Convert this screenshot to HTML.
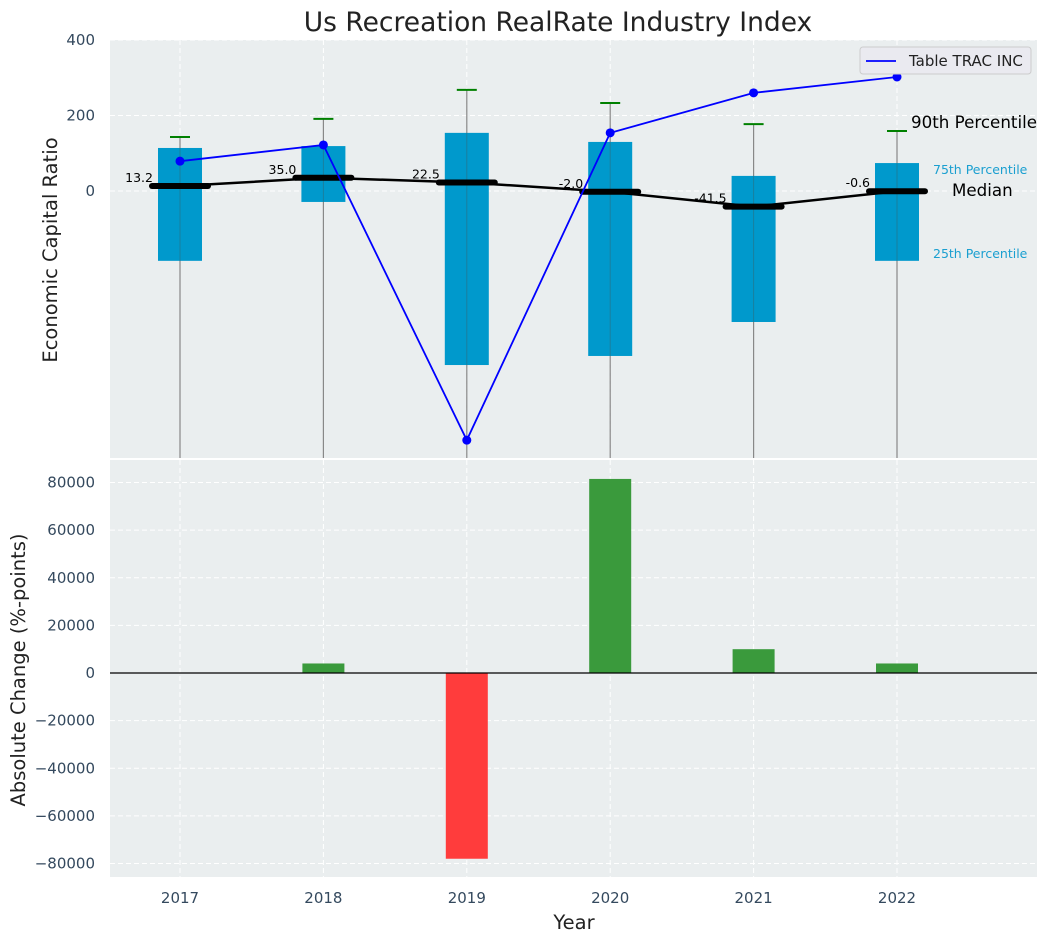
<!DOCTYPE html>
<html><head><meta charset="utf-8">
<style>
body{margin:0;background:#fff;font-family:"Liberation Sans","DejaVu Sans",sans-serif;}
svg text{font-family:"DejaVu Sans","Liberation Sans",sans-serif;}
</style></head>
<body>
<svg id="c" width="1048" height="942" xmlns="http://www.w3.org/2000/svg"></svg>
<script>
const years=[2017,2018,2019,2020,2021,2022];
const q75=[114,119,154,130,40,74];
const q25=[-185,-29,-461,-437,-347,-185];
const p90=[143,191,268,233,177,159];
const medians=[13.2,35.0,22.5,-2.0,-41.5,-0.6];
const company=[79,122,-660,154,260,302];
const changes=[0,4000,-78000,81500,10000,4000];
const topTicks=[0,200,400];
const botTicks=[-80000,-60000,-40000,-20000,0,20000,40000,60000,80000];

const NS="http://www.w3.org/2000/svg";
const svg=document.getElementById('c');
function el(t,a,p){const e=document.createElementNS(NS,t);for(const k in a)e.setAttribute(k,a[k]);(p||svg).appendChild(e);return e;}
const L=110,R=1037;
const x=v=>180+(v-2017)*143.4;
const yT=v=>191-v*0.3775;
const yB=v=>673-v*190.5/80000;
const T0=40,T1=458,B0=460,B1=877;

let bg=el('rect',{x:L,y:T0,width:R-L,height:T1-T0,fill:'#eaeeef'});

let bg2=el('rect',{x:L,y:B0,width:R-L,height:B1-B0,fill:'#eaeeef'});


topTicks.forEach(v=>el('line',{x1:L,x2:R,y1:yT(v),y2:yT(v),stroke:'#fff','stroke-dasharray':'5,3'}));
botTicks.forEach(v=>el('line',{x1:L,x2:R,y1:yB(v),y2:yB(v),stroke:'#fff','stroke-dasharray':'5,3'}));
years.forEach(v=>{el('line',{x1:x(v),x2:x(v),y1:T0,y2:T1,stroke:'#fff','stroke-dasharray':'5,3'});el('line',{x1:x(v),x2:x(v),y1:B0,y2:B1,stroke:'#fff','stroke-dasharray':'5,3'});});

topTicks.forEach(v=>{const t=el('text',{x:95,y:yT(v)+5,'text-anchor':'end','font-size':15,fill:'#34495e'});t.textContent=v;});
botTicks.forEach(v=>{const t=el('text',{x:95,y:yB(v)+5,'text-anchor':'end','font-size':15,fill:'#34495e'});t.textContent=v<0?'\u2212'+(-v):v;});
years.forEach(v=>{const t=el('text',{x:x(v),y:903,'text-anchor':'middle','font-size':15,fill:'#34495e'});t.textContent=v;});

years.forEach((yr,i)=>{
  const cx=x(yr);
  const w=el('line',{x1:cx,x2:cx,y1:yT(p90[i]),y2:T1,stroke:'#888','stroke-width':1.2});
  
  const cap=el('line',{x1:cx-10,x2:cx+10,y1:yT(p90[i]),y2:yT(p90[i]),stroke:'green','stroke-width':2});
  
  const b=el('rect',{x:cx-22,y:yT(q75[i]),width:44,height:yT(q25[i])-yT(q75[i]),fill:'#0099cc'});
  
  el('line',{x1:cx,x2:cx,y1:yT(q75[i]),y2:yT(q25[i]),stroke:'#2b6e80','stroke-width':1,opacity:0.6});
});
el('polyline',{points:years.map((yr,i)=>x(yr)+','+yT(medians[i])).join(' '),fill:'none',stroke:'#000','stroke-width':2.5});
years.forEach((yr,i)=>{
  const cx=x(yr);
  const m=el('line',{x1:cx-28,x2:cx+28,y1:yT(medians[i]),y2:yT(medians[i]),stroke:'#000','stroke-width':6,'stroke-linecap':'round'});
  
  const t=el('text',{x:cx-27,y:yT(medians[i])-4,'text-anchor':'end','font-size':12.5,fill:'#000'});t.textContent=medians[i].toFixed(1);
  
});
const pl=el('polyline',{points:years.map((yr,i)=>x(yr)+','+yT(company[i])).join(' '),fill:'none',stroke:'blue','stroke-width':1.8});

years.forEach((yr,i)=>{const c=el('circle',{cx:x(yr),cy:yT(company[i]),r:4.5,fill:'blue'});});

const ax=x(2022);
[['90th Percentile',ax+14,128,16.7,'#000'],['75th Percentile',ax+36,174,12.5,'#1a9fd0'],['Median',ax+55,196,16.7,'#000'],['25th Percentile',ax+36,258,12.5,'#1a9fd0']].forEach(a=>{
  const t=el('text',{x:a[1],y:a[2],'font-size':a[3],fill:a[4]});t.textContent=a[0];
  
});

const lg=el('g',{});
el('rect',{x:860,y:47,width:171,height:27,rx:3,fill:'#eaeaf0',stroke:'#ccc'},lg);
el('line',{x1:866,x2:896,y1:61,y2:61,stroke:'blue','stroke-width':1.8},lg);
const lt=el('text',{x:909,y:66,'font-size':15,fill:'#222'},lg);lt.textContent='Table TRAC INC';

years.forEach((yr,i)=>{
  if(!changes[i])return;
  const v=changes[i];
  const r=el('rect',{x:x(yr)-21,y:Math.min(yB(v),yB(0)),width:42,height:Math.abs(yB(v)-yB(0)),fill:v>0?'#3a9a3c':'#ff3c3c'});
  
});
el('line',{x1:L,x2:R,y1:yB(0),y2:yB(0),stroke:'#000','stroke-width':1.2});

let t=el('text',{x:558,y:31,'text-anchor':'middle','font-size':26.5,fill:'#222'});t.textContent='Us Recreation RealRate Industry Index';
t=el('text',{x:574,y:929,'text-anchor':'middle','font-size':19.5,fill:'#222'});t.textContent='Year';
t=el('text',{x:0,y:0,'text-anchor':'middle','font-size':19.5,fill:'#222',transform:'translate(57,250) rotate(-90)'});t.textContent='Economic Capital Ratio';
t=el('text',{x:0,y:0,'text-anchor':'middle','font-size':19.5,fill:'#222',transform:'translate(25,670) rotate(-90)'});t.textContent='Absolute Change (%-points)';
</script>
</body></html>
